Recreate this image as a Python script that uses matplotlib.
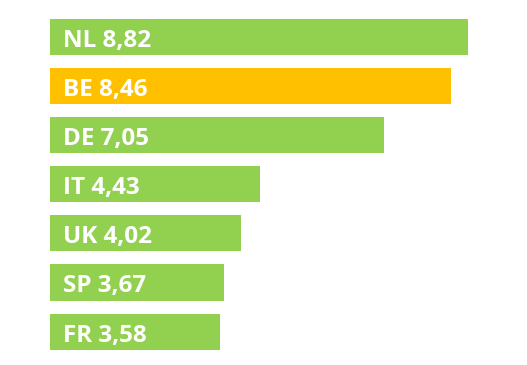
import matplotlib
matplotlib.use("Agg")
import matplotlib.pyplot as plt

countries = ["NL", "BE", "DE", "IT", "UK", "SP", "FR"]
values = [8.82, 8.46, 7.05, 4.43, 4.02, 3.67, 3.58]
colors = ["#92D050", "#FFC000", "#92D050", "#92D050", "#92D050", "#92D050", "#92D050"]

W, H = 527, 365
fig = plt.figure(figsize=(W / 100, H / 100), dpi=100)
ax = fig.add_axes([0, 0, 1, 1])
ax.axis("off")

ppu = 47.4           # pixels per unit
pitch, top = 49.1, 37
ypos = list(range(len(countries)))
ax.barh(ypos, values, height=0.735, color=colors)
for y, c, v in zip(ypos, countries, values):
    ax.text(13 / ppu, y + 0.02, f"{c} {v:.2f}".replace(".", ","), color="white",
            fontsize=17.5, fontweight="bold", family="Open Sans",
            va="center_baseline", ha="left")

ax.set_xlim(-50 / ppu, (W - 50) / ppu)
ax.set_ylim((H - top) / pitch, -top / pitch)
fig.savefig("out.png", dpi=100, facecolor="white")
